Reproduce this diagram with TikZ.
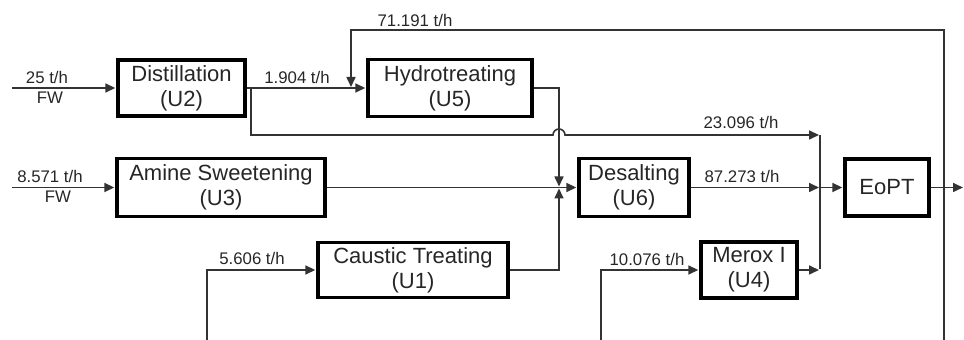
\documentclass[tikz,border=0pt]{standalone}
\usepackage{fontspec}
\setmainfont{Liberation Sans}
\usepackage{tikz}
\usetikzlibrary{arrows.meta}
\usetikzlibrary{calc}

\begin{document}
\begin{tikzpicture}[x=0.5pt,y=-0.5pt,>={Triangle[length=5pt,width=4.5pt]},shorten >=0.5pt,line width=0.8pt,black!80]
 	\tikzstyle{unit}=[draw=black, line width=1.7pt, rectangle, align=center, inner sep=0pt, text=black!85, font=\fontsize{11}{12.5}\selectfont]
 	\tikzstyle{flow}=[inner sep=0pt, text=black!85, font=\fontsize{8.4}{9}\selectfont]
 	\useasboundingbox (0,0) rectangle (964,340);
 	\node[unit, minimum width=63.5pt, minimum height=28pt] (U2) at (181.5,88) {Distillation\\(U2)};
 	\node[unit, minimum width=82pt, minimum height=28.5pt] (U5) at (450,88) {Hydrotreating\\(U5)};
 	\node[unit, minimum width=104pt, minimum height=29pt] (U3) at (221,187.5) {Amine Sweetening\\(U3)};
 	\node[unit, minimum width=55pt, minimum height=29pt] (U6) at (634,187.5) {Desalting\\(U6)};
 	\node[unit, minimum width=95pt, minimum height=27.5pt] (U1) at (413,270) {Caustic Treating\\(U1)};
 	\node[unit, minimum width=48pt, minimum height=28pt] (U4) at (749,270) {Merox I\\(U4)};
 	\node[unit, minimum width=42pt, minimum height=28.5pt] (EoPT) at (887,187.5) {EoPT};
 	\coordinate (in2) at (12,88);
 	\coordinate (in3) at (12,187.5);
 	\coordinate (in1) at (207,340);
 	\coordinate (in4) at (601,340);
 	\coordinate (rc) at (944,340);
 	\coordinate (out) at (964,187.5);
 	\coordinate (rt) at (351,88);
 	\coordinate (bp) at (251,88);
 	\coordinate (j1) at (559,187.5);
 	\coordinate (j2) at (820,187.5);
 	\coordinate (jm) at (820,135);
 	\coordinate (jb) at (820,270);
 	\draw[->] (in2) -- (U2);
 	\draw[->] (U2) -- (U5);
 	\draw[->] (rc) -- ++(0,-310) -| (rt);
 	\draw[->] (bp) -- ++(0,47) -- ($(j1|-jm)+(-6,0)$) arc[start angle=180,end angle=0,radius=3pt] -- (jm);
 	\draw[->] (U5.east) -| (j1);
 	\draw[->] (in3) -- (U3);
 	\draw[->] (U3) -- (U6);
 	\draw[->] (in1) |- (U1.west);
 	\draw[->] (U1.east) -| (j1);
 	\draw[->] (U6) -- (j2);
 	\draw[->] (in4) |- (U4.west);
 	\draw[->] (U4.east) -- (jb);
 	\draw (jm) -- (jb);
 	\draw[->] (j2) -- (EoPT);
 	\draw[->] (EoPT) -- (out);
 	\node[flow] (f2)  at (47,78) {25 t/h};
 	\node[flow] (fw2) at (50,98) {FW};
 	\node[flow] (f25) at (297,78) {1.904 t/h};
 	\node[flow] (frc) at (415,21) {71.191 t/h};
 	\node[flow] (fbp) at (741,123) {23.096 t/h};
 	\node[flow] (f3)  at (50,177) {8.571 t/h};
 	\node[flow] (fw3) at (58,197) {FW};
 	\node[flow] (f1)  at (252,259) {5.606 t/h};
 	\node[flow] (f6)  at (742,177) {87.273 t/h};
 	\node[flow] (f4)  at (647,260) {10.076 t/h};
\end{tikzpicture}
\end{document}
